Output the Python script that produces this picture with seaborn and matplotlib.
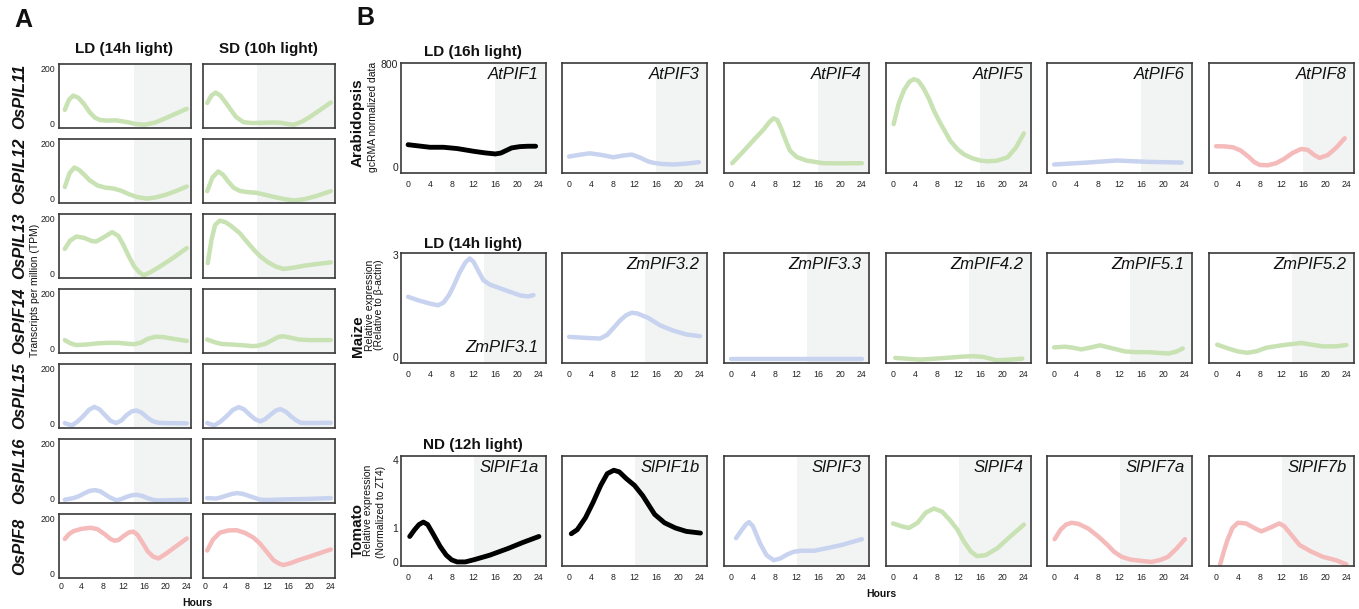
import numpy as np
import matplotlib.pyplot as plt
import seaborn as sns

sns.set_style('white')
plt.rcParams['font.family'] = ['Liberation Sans', 'DejaVu Sans']
plt.rcParams['text.color'] = '#111111'
plt.rcParams['lines.solid_capstyle'] = 'round'
plt.rcParams['lines.solid_joinstyle'] = 'round'

GREEN = '#c8e2b3'
BLUE = '#c8d3f0'
PINK = '#f5baba'
BLACK = '#000000'
SHADE = '#f2f4f3'

# ---- panel A: rice, (hours, TPM) for LD (14h) and SD (10h)
rice_genes = ['OsPIL11', 'OsPIL12', 'OsPIL13', 'OsPIF14', 'OsPIL15', 'OsPIL16', 'OsPIF8']
rice_colors = [GREEN, GREEN, GREEN, GREEN, BLUE, BLUE, PINK]

OsPIL11_LD = ([0.8, 1.6, 2.4, 3.4, 4.5, 5.5, 6.5, 7.5, 9, 10.5, 12.5, 14.5, 16, 18, 20, 22, 24],
              [48, 85, 100, 92, 68, 40, 20, 11, 9, 10, 4, -4, -6, 2, 18, 35, 52])
OsPIL11_SD = ([0.5, 1.3, 2.1, 3, 4, 5, 6, 7.4, 9, 11, 13, 14.5, 16, 17, 18.5, 20, 22, 24],
              [73, 100, 111, 100, 75, 48, 22, 3, 0, 1, 2, 1, -4, -6, 5, 22, 48, 75])
OsPIL12_LD = ([0.8, 1.7, 2.6, 3.5, 4.5, 5.5, 7, 8.5, 10, 11.5, 13, 14.5, 16.4, 18, 20, 22, 24],
              [40, 90, 111, 103, 85, 65, 46, 38, 35, 27, 14, 4, -2, 2, 12, 26, 42])
OsPIL12_SD = ([0.5, 1.5, 2.6, 3.5, 4.5, 5.5, 6.7, 8, 9.9, 11.5, 13, 15, 17, 19, 21, 24],
              [25, 75, 97, 85, 60, 38, 26, 22, 19, 12, 5, -3, -9, -4, 6, 25])
OsPIL13_LD = ([0.8, 1.8, 3, 4.5, 6, 6.8, 8, 9.8, 11, 12, 13, 14, 15, 15.8, 17, 19, 21, 22.5, 24],
              [88, 118, 133, 128, 116, 115, 128, 149, 135, 100, 60, 24, 2, -8, 2, 25, 50, 70, 91])
OsPIL13_SD = ([0.6, 1.3, 2, 2.9, 4, 5, 6.7, 8, 9.5, 10.6, 12, 13.5, 15, 17, 19, 21, 24],
              [36, 120, 175, 191, 185, 172, 145, 115, 82, 61, 40, 24, 15, 20, 27, 32, 39])
OsPIF14_LD = ([0.8, 1.8, 2.9, 5, 7, 9, 11, 12.5, 14, 15.3, 16.5, 18, 19.5, 21, 24],
              [29, 18, 11, 13, 17, 19, 19, 16, 14, 20, 33, 41, 40, 35, 26])
OsPIF14_SD = ([0.5, 1.8, 3.2, 5, 7.4, 9, 10, 11.5, 12.8, 14, 14.9, 16, 18, 20, 24],
              [31, 22, 15, 13, 10, 7, 8, 15, 28, 40, 43, 39, 31, 29, 29])
OsPIL15_LD = ([0.8, 1.5, 2.2, 3.2, 4.3, 5.4, 6.4, 7.4, 8.5, 9.5, 10.6, 11.6, 12.5, 13.5, 14.4,
               15.4, 16.5, 17.5, 18.6, 20, 24],
              [0, -5, -8, 5, 25, 48, 59, 50, 28, 8, 0, 10, 28, 42, 46, 38, 20, 7, 1, 0, -1])
OsPIL15_SD = ([0.5, 1.2, 1.9, 3, 4.2, 5.4, 6.5, 7.5, 8.6, 9.6, 10.6, 11.5, 12.5, 13.5, 14.4,
               15.4, 16.4, 17.4, 18.3, 20, 24],
              [0, -5, -8, 5, 25, 48, 58, 50, 30, 14, 6, 14, 30, 45, 51, 42, 25, 10, 1, 0, 1])
OsPIL16_LD = ([0.8, 2.5, 3.5, 4.5, 5.5, 6.5, 7.5, 8.5, 9.5, 10.6, 11.5, 12.5, 13.5, 14.4, 15.5,
               16.5, 17.5, 18.6, 24],
              [-6, 0, 7, 17, 26, 29, 25, 13, 1, -8, -4, 4, 10, 12, 8, 0, -6, -9, -6])
OsPIL16_SD = ([0.5, 2.2, 3.2, 4.2, 5.2, 6.2, 7.3, 8.4, 9.5, 10.6, 12, 15, 20, 24],
              [0, -2, 3, 9, 15, 18, 15, 8, 1, -6, -7, -5, -3, 0])
OsPIF8_LD = ([0.8, 1.6, 2.5, 4, 5.7, 7, 8.5, 9.5, 10.2, 11, 12, 13, 13.8, 14.6, 15.6, 16.6, 17.6,
              18.6, 20, 22, 24],
             [124, 142, 153, 161, 165, 160, 140, 124, 118, 120, 135, 148, 151, 140, 110, 78, 60,
              53, 70, 98, 126])
OsPIF8_SD = ([0.5, 1.6, 2.9, 4.5, 6.1, 7.7, 9.3, 10.5, 11.7, 13.1, 14.2, 15, 16.5, 18, 20, 22, 24],
             [82, 122, 147, 155, 156, 146, 129, 108, 80, 47, 34, 29, 37, 48, 60, 73, 86])

rice_ld = [OsPIL11_LD, OsPIL12_LD, OsPIL13_LD, OsPIF14_LD, OsPIL15_LD, OsPIL16_LD, OsPIF8_LD]
rice_sd = [OsPIL11_SD, OsPIL12_SD, OsPIL13_SD, OsPIF14_SD, OsPIL15_SD, OsPIL16_SD, OsPIF8_SD]

# ---- panel B: arabidopsis (LD 16h), maize (LD 14h), tomato (ND 12h)
at_genes = ['AtPIF1', 'AtPIF3', 'AtPIF4', 'AtPIF5', 'AtPIF6', 'AtPIF8']
at_colors = [BLACK, BLUE, GREEN, GREEN, BLUE, PINK]
AtPIF1 = ([0, 2, 4, 6.5, 9, 12, 14, 16, 17, 18, 19, 20.5, 22, 23.4],
          [175, 165, 155, 155, 145, 124, 112, 103, 110, 130, 150, 160, 163, 163])
AtPIF3 = ([0, 2, 3.8, 6, 8.1, 9.8, 11.5, 13, 14.5, 15.5, 17, 19.2, 21.5, 23.8],
          [83, 97, 108, 95, 77, 90, 98, 75, 45, 34, 25, 21, 28, 39])
AtPIF4 = ([0.2, 2.4, 4.6, 6, 7, 7.8, 8.5, 9.2, 10, 10.8, 12, 13.8, 16.9, 20, 24],
          [31, 130, 232, 295, 350, 380, 365, 300, 210, 129, 80, 52, 31, 30, 31])
AtPIF5 = ([0.1, 1, 2, 3, 3.8, 4.6, 5.5, 6.5, 7.5, 8.5, 9.5, 10.5, 11.8, 13, 14.5, 16, 17.3, 19,
           21, 22.5, 24],
          [335, 490, 600, 665, 684, 672, 620, 540, 439, 355, 280, 205, 140, 100, 70, 52, 46, 50,
           77, 150, 263])
AtPIF6 = ([0, 6, 11.5, 17, 23.4], [21, 36, 52, 42, 36])
AtPIF8 = ([0, 1.5, 3.1, 4.5, 6, 7, 8, 9.5, 11, 12.5, 14, 15.6, 16.8, 18, 19, 20.5, 22, 23.6],
          [163, 162, 155, 130, 80, 40, 18, 15, 31, 65, 110, 142, 135, 95, 72, 95, 150, 225])

zm_genes = ['ZmPIF3.1', 'ZmPIF3.2', 'ZmPIF3.3', 'ZmPIF4.2', 'ZmPIF5.1', 'ZmPIF5.2']
zm_colors = [BLUE, BLUE, BLUE, GREEN, GREEN, GREEN]
ZmPIF3_1 = ([0, 2, 4, 5.5, 6.5, 7.5, 8.3, 9.5, 10.5, 11.3, 12, 13, 13.8, 15, 16.9, 19, 20.6, 22, 23],
            [1.77, 1.66, 1.57, 1.52, 1.6, 1.82, 2.07, 2.5, 2.78, 2.9, 2.8, 2.5, 2.26, 2.13, 2.02,
             1.9, 1.81, 1.78, 1.82])
ZmPIF3_2 = ([0, 3, 5.7, 7, 8.3, 9.4, 10.5, 11.5, 12.5, 14.5, 16.7, 19, 21.5, 24],
            [0.59, 0.56, 0.54, 0.65, 0.88, 1.08, 1.23, 1.3, 1.28, 1.15, 0.93, 0.78, 0.66, 0.61])
ZmPIF3_3 = ([0, 12, 24], [-0.06, -0.06, -0.06])
ZmPIF4_2 = ([0.4, 3, 5, 8, 10.5, 13, 14.8, 16.5, 19, 21.5, 23.7],
            [-0.03, -0.06, -0.08, -0.05, -0.02, 0.01, 0.02, 0.0, -0.1, -0.08, -0.05])
ZmPIF5_1 = ([0, 2, 3.5, 5, 6.5, 8.4, 10.5, 13, 15, 17.3, 19, 21, 22.5, 23.6],
            [0.28, 0.3, 0.27, 0.22, 0.27, 0.34, 0.26, 0.16, 0.14, 0.14, 0.12, 0.1, 0.16, 0.25])
ZmPIF5_2 = ([0.2, 2, 4, 5.8, 7.5, 9.2, 12, 15.6, 17.5, 19.6, 22, 23.9],
            [0.36, 0.26, 0.16, 0.12, 0.17, 0.27, 0.34, 0.41, 0.36, 0.31, 0.31, 0.35])

sl_genes = ['SlPIF1a', 'SlPIF1b', 'SlPIF3', 'SlPIF4', 'SlPIF7a', 'SlPIF7b']
sl_colors = [BLACK, BLACK, BLUE, GREEN, PINK, PINK]
SlPIF1a = ([0.3, 1.2, 2, 2.8, 3.6, 4.5, 5.9, 7, 8, 9, 10.5, 12.2, 15, 18.4, 21, 24],
           [0.75, 0.95, 1.15, 1.26, 1.15, 0.85, 0.45, 0.2, 0.06, 0.0, 0.0, 0.07, 0.2, 0.4, 0.57, 0.75])
SlPIF1b = ([0.4, 1.5, 3, 4.4, 5.8, 7, 8.2, 9.2, 10.5, 12, 13.5, 15.7, 17.5, 19.5, 21.5, 24.1],
           [0.83, 0.95, 1.45, 2.13, 2.88, 3.4, 3.55, 3.48, 3.18, 2.88, 2.43, 1.6, 1.23, 1.0, 0.9, 0.85])
SlPIF3 = ([0.9, 2, 2.7, 3.3, 4, 5.3, 6.5, 7.8, 9, 10.3, 11.5, 13, 15.3, 18, 20.3, 24],
          [0.7, 0.95, 1.15, 1.26, 1.08, 0.55, 0.2, 0.05, 0.1, 0.22, 0.3, 0.33, 0.33, 0.42, 0.5, 0.67])
SlPIF4 = ([0, 1.5, 2.9, 4.5, 6, 7.5, 9, 10.5, 11.8, 13, 14.3, 15.4, 17, 19.1, 21.5, 24],
          [1.2, 1.08, 1.0, 1.23, 1.68, 1.86, 1.72, 1.33, 0.95, 0.6, 0.3, 0.17, 0.2, 0.4, 0.75, 1.15])
SlPIF7a = ([0.1, 1.2, 2.2, 3.2, 4.5, 6.3, 8.1, 9.8, 11, 12.4, 14, 16, 17.9, 19.5, 20.9, 22.5, 24],
           [0.67, 0.95, 1.15, 1.23, 1.18, 0.98, 0.75, 0.5, 0.3, 0.15, 0.07, 0.03, 0.0, 0.06, 0.15,
            0.4, 0.67])
SlPIF7b = ([0.7, 1.4, 2.1, 3, 4, 5.5, 7, 8.3, 9.8, 11.6, 12.5, 13.8, 15.3, 17.5, 19.6, 22, 23.9],
           [-0.1, 0.3, 0.65, 1.0, 1.23, 1.2, 1.0, 0.9, 1.0, 1.2, 1.08, 0.8, 0.5, 0.3, 0.15, 0.05,
            -0.07])

hour_ticks = [0, 4, 8, 12, 16, 20, 24]

W, H = 1359, 609
fig = plt.figure(figsize=(W / 100, H / 100), dpi=100)


def rect(x, y, w, h):
    return [x / W, 1 - (y + h) / H, w / W, h / H]


def style_box(ax):
    for s in ax.spines.values():
        s.set_visible(True)
        s.set_color('#3a3a3a')
        s.set_linewidth(1.2)
    ax.set_xlabel('')
    ax.set_ylabel('')


def draw(ax, curve, color, light, xlim, lw=3.2):
    ax.axvspan(light, xlim[1], color=SHADE, lw=0, zorder=0)
    sns.lineplot(x=curve[0], y=curve[1], ax=ax, color=color, lw=lw, sort=False)
    ax.set_xlim(*xlim)
    style_box(ax)


# ---------------- panel A
a_cols = [59, 203]
a_tops = [64, 139, 214, 289, 364, 439, 514]
for r, gene in enumerate(rice_genes):
    for c, (data, light) in enumerate([(rice_ld[r], 14), (rice_sd[r], 10)]):
        ax = fig.add_axes(rect(a_cols[c], a_tops[r], 132, 64))
        draw(ax, data, rice_colors[r], light, (-0.3, 24.8))
        ax.set_ylim(-18, 215)
        ax.set_yticks([0, 200])
        ax.set_xticks(hour_ticks)
        ax.tick_params(length=0, labelsize=6.3, pad=3, colors='#222222')
        if c == 1:
            ax.set_yticklabels([])
        if r < len(rice_genes) - 1:
            ax.set_xticklabels([])
    fig.text(20 / W, 1 - (a_tops[r] + 32) / H, gene, rotation=90, ha='center', va='center',
             fontsize=12, weight='bold', style='italic')

fig.text(23 / W, 1 - 20 / H, 'A', ha='center', va='center', fontsize=18, weight='bold')
fig.text(124 / W, 1 - 49 / H, 'LD (14h light)', ha='center', va='center', fontsize=11, weight='bold')
fig.text(268 / W, 1 - 49 / H, 'SD (10h light)', ha='center', va='center', fontsize=11, weight='bold')
fig.text(35 / W, 1 - 290 / H, 'Transcripts per million (TPM)', rotation=90, ha='center',
         va='center', fontsize=7.5)
fig.text(197 / W, 1 - 603 / H, 'Hours', ha='center', va='center', fontsize=7.5, weight='bold')

# ---------------- panel B
b_cols = [401, 562, 724, 886, 1047, 1209]
b_tops = [63, 253, 456]


def fwd(y):
    y = np.asarray(y, dtype=float)
    return np.where(y <= 1, y, 1 + (y - 1) / 1.5)


def inv(u):
    u = np.asarray(u, dtype=float)
    return np.where(u <= 1, u, 1 + (u - 1) * 1.5)


rows = [
    (at_genes, at_colors, [AtPIF1, AtPIF3, AtPIF4, AtPIF5, AtPIF6, AtPIF8], 16,
     (-45, 810), [0, 800]),
    (zm_genes, zm_colors, [ZmPIF3_1, ZmPIF3_2, ZmPIF3_3, ZmPIF4_2, ZmPIF5_1, ZmPIF5_2], 14,
     (-0.18, 3.06), [0, 3]),
    (sl_genes, sl_colors, [SlPIF1a, SlPIF1b, SlPIF3, SlPIF4, SlPIF7a, SlPIF7b], 12,
     (-0.12, 4.18), [0, 1, 4]),
]

for r, (genes, colors, curves, light, ylim, yt) in enumerate(rows):
    for c in range(6):
        ax = fig.add_axes(rect(b_cols[c], b_tops[r], 145, 110))
        if r == 2:
            ax.set_yscale('function', functions=(fwd, inv))
        lw = 3.5 if colors[c] == BLACK else 3.2
        draw(ax, curves[c], colors[c], light, (-1.3, 25.3), lw=lw)
        ax.set_ylim(*ylim)
        ax.set_yticks(yt)
        ax.set_yticklabels([str(v) for v in yt])
        ax.minorticks_off()
        ax.set_xticks(hour_ticks)
        ax.tick_params(axis='x', length=0, labelsize=6.3, pad=5, colors='#222222')
        ax.tick_params(axis='y', length=0, labelsize=7.5, pad=2, colors='#222222')
        if c > 0:
            ax.set_yticklabels([])
        if genes[c] == 'ZmPIF3.1':
            ax.text(0.95, 0.07, genes[c], transform=ax.transAxes, ha='right', va='bottom',
                    fontsize=12, style='italic')
        else:
            ax.text(0.95, 0.965, genes[c], transform=ax.transAxes, ha='right', va='top',
                    fontsize=12, style='italic')

fig.text(365 / W, 1 - 18 / H, 'B', ha='center', va='center', fontsize=18, weight='bold')
for y, t in [(52, 'LD (16h light)'), (244, 'LD (14h light)'), (445, 'ND (12h light)')]:
    fig.text(473 / W, 1 - y / H, t, ha='center', va='center', fontsize=11, weight='bold')

fig.text(358 / W, 1 - 167 / H, 'Arabidopsis', rotation=90, ha='center', va='bottom',
         fontsize=11, weight='bold')
fig.text(373 / W, 1 - 117 / H, 'gcRMA normalized data', rotation=90, ha='center', va='center',
         fontsize=7.5)
fig.text(358 / W, 1 - 357 / H, 'Maize', rotation=90, ha='center', va='bottom',
         fontsize=11, weight='bold')
fig.text(370 / W, 1 - 305 / H, 'Relative expression', rotation=90, ha='center', va='center',
         fontsize=7.5)
fig.text(379 / W, 1 - 305 / H, '(Relative to β-actin)', rotation=90, ha='center', va='center',
         fontsize=7.5)
fig.text(358 / W, 1 - 557 / H, 'Tomato', rotation=90, ha='center', va='bottom',
         fontsize=11, weight='bold')
fig.text(368 / W, 1 - 510 / H, 'Relative expression', rotation=90, ha='center', va='center',
         fontsize=7.5)
fig.text(381 / W, 1 - 512 / H, '(Normalized to ZT4)', rotation=90, ha='center', va='center',
         fontsize=7.5)
fig.text(881 / W, 1 - 594 / H, 'Hours', ha='center', va='center', fontsize=7.5, weight='bold')

fig.savefig('out.png', dpi=100)
